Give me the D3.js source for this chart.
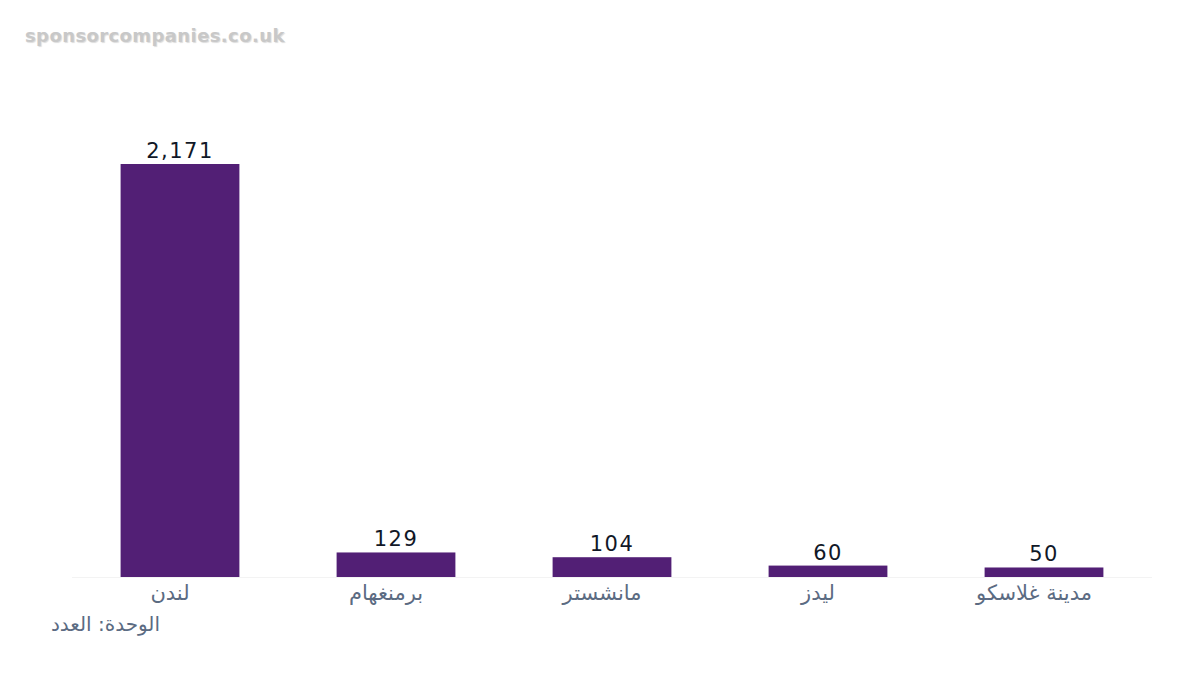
<!DOCTYPE html>
<html><head><meta charset="utf-8">
<script src="https://cdn.jsdelivr.net/npm/d3@7"></script>
<style>body{margin:0;background:#fff}</style></head>
<body><svg id="c" width="1200" height="675"></svg>
<script>
const categories = ["لندن","برمنغهام","مانشستر","ليدز","مدينة غلاسكو"];
const values = [2171,129,104,60,50];
const unitLabel = "الوحدة: العدد";
const watermark = "sponsorcompanies.co.uk";

const svg = d3.select("#c");
const font = "'DejaVu Sans', sans-serif";
const x = d3.scaleBand().domain(categories).range([72,1152]).paddingInner(0.45).paddingOuter(0.225);
const y = d3.scaleLinear().domain([0,2171]).range([577,164]);

svg.append("text").attr("x",25).attr("y",42).text(watermark)
  .attr("font-family",font).attr("font-weight","bold").attr("font-size",18)
  .attr("letter-spacing",0.4)
  .attr("fill","#c8c8c8").attr("style","text-shadow:1px 1px 1px #ddd");

svg.append("line").attr("x1",72).attr("x2",1152).attr("y1",577.5).attr("y2",577.5)
  .attr("stroke","#f3f3f3");

svg.selectAll("rect.b").data(values).join("rect")
  .attr("x",(d,i)=>x(categories[i])).attr("width",x.bandwidth())
  .attr("y",d=>y(d)).attr("height",d=>y(0)-y(d)).attr("fill","#521f75");

svg.selectAll("text.v").data(values).join("text")
  .attr("x",(d,i)=>x(categories[i])+x.bandwidth()/2).attr("y",d=>y(d)-6)
  .attr("text-anchor","middle").attr("font-family",font).attr("font-size",21)
  .attr("letter-spacing",1.5)
  .attr("fill","#111827").text(d=>d3.format(",")(d));

const ax = svg.append("g").attr("transform","translate(-10,577)")
  .call(d3.axisBottom(x).tickSize(0).tickPadding(8));
ax.select(".domain").remove();
ax.selectAll("text").attr("font-family",font).attr("font-size",21).attr("fill","#5b6b82");

svg.append("text").attr("x",160).attr("y",631).attr("text-anchor","end")
  .attr("font-family",font).attr("font-size",20).attr("fill","#5b6b82").text(unitLabel);
</script></body></html>
